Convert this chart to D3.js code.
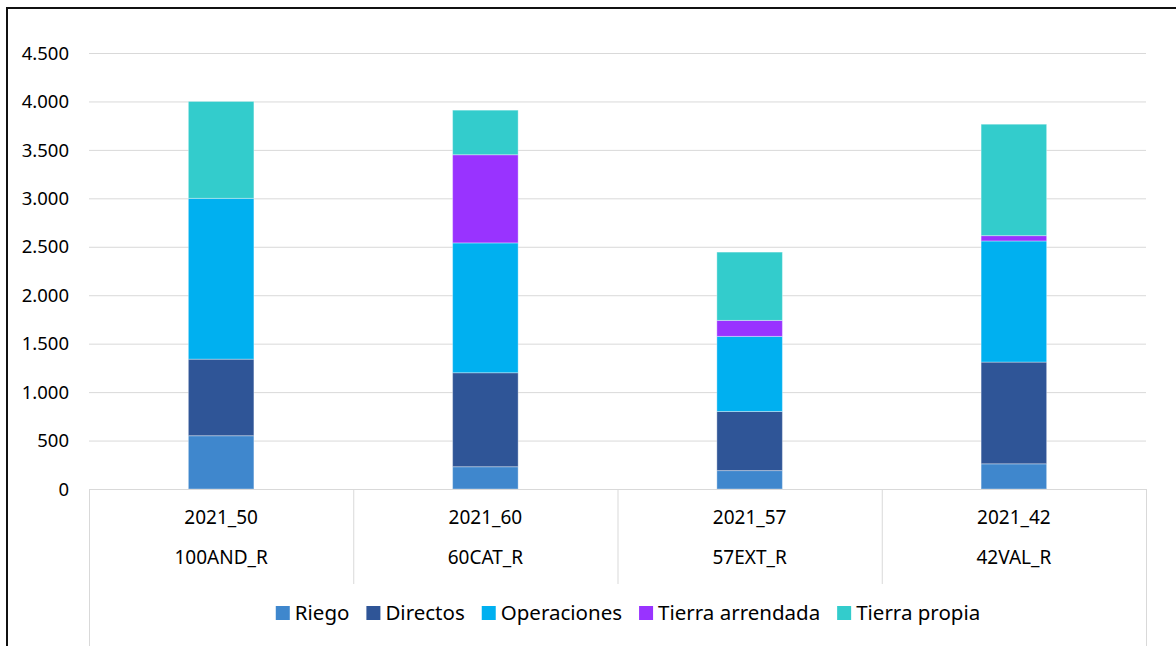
<!DOCTYPE html>
<meta charset="utf-8">
<style>
body { margin: 0; background: #fff; }
svg { display: block; font-family: "Noto Sans", "Open Sans", sans-serif; }
.grid line { stroke: #d9d9d9; stroke-width: 1; }
.tick-label { font-size: 18.5px; fill: #000; }
.cat-label { font-size: 19px; fill: #000; }
.legend text { font-size: 20.5px; fill: #000; }
</style>
<body>
<svg width="1176" height="646" id="vis"></svg>
</body>
<script src="https://d3js.org/d3.v7.min.js"></script>
<script>
var categories = ["2021_50", "2021_60", "2021_57", "2021_42"];
var regions = ["100AND_R", "60CAT_R", "57EXT_R", "42VAL_R"];
var seriesNames = ["Riego", "Directos", "Operaciones", "Tierra arrendada", "Tierra propia"];
var seriesColours = ["#3f87cd", "#2f5597", "#00b0f0", "#9933ff", "#33cccc"];

var riego = [550, 230, 190, 260];
var directos = [790, 970, 610, 1050];
var operaciones = [1660, 1340, 775, 1250];
var tierraArrendada = [0, 910, 165, 55];
var tierraPropia = [1000, 460, 705, 1150];
var yTicks = [0, 500, 1000, 1500, 2000, 2500, 3000, 3500, 4000, 4500];

var svg = d3.select("svg"),
    plot = {left: 89, right: 1146, top: 53, bottom: 489},
    tableBottom = 584;

var seriesValues = [riego, directos, operaciones, tierraArrendada, tierraPropia];
var data = categories.map(function(c, i) {
    var row = {cat: c};
    seriesNames.forEach(function(s, j) { row[s] = seriesValues[j][i]; });
    return row;
});

var x = d3.scaleBand()
    .domain(categories)
    .range([plot.left, plot.right])
    .paddingInner(0)
    .paddingOuter(0);

var y = d3.scaleLinear()
    .domain([0, 4500])
    .range([plot.bottom, plot.top]);

// outer frame
svg.append("path")
    .attr("d", "M7,646 L7,8 L1176,8")
    .attr("fill", "none")
    .attr("stroke", "#111")
    .attr("stroke-width", 2);

// grid lines
svg.append("g").attr("class", "grid")
    .selectAll("line").data(yTicks.slice(1)).enter().append("line")
    .attr("x1", plot.left).attr("x2", plot.right)
    .attr("y1", function(d) { return y(d) + 0.5; })
    .attr("y2", function(d) { return y(d) + 0.5; });

// y labels
svg.append("g")
    .selectAll("text").data(yTicks).enter().append("text")
    .attr("class", "tick-label")
    .attr("x", 69)
    .attr("y", function(d) { return y(d); })
    .attr("dy", "0.36em")
    .attr("text-anchor", "end")
    .text(function(d) { return d3.format(",")(d).replace(/,/g, "."); });

// bars
var stack = d3.stack().keys(seriesNames);
var layers = stack(data);
var barW = x.bandwidth() * 0.248;

svg.append("g")
    .selectAll("g").data(layers).enter().append("g")
    .attr("fill", function(d, i) { return seriesColours[i]; })
    .selectAll("rect").data(function(d) { return d; }).enter().append("rect")
    .attr("x", function(d) { return x(d.data.cat) + (x.bandwidth() - barW) / 2; })
    .attr("width", barW)
    .attr("y", function(d) { return y(d[1]); })
    .attr("height", function(d) { return y(d[0]) - y(d[1]); })
    .attr("stroke", "#fff")
    .attr("stroke-opacity", 0.35)
    .attr("stroke-width", 1);

// category table
var table = svg.append("g").attr("class", "grid");
table.append("line")
    .attr("x1", plot.left).attr("x2", plot.right)
    .attr("y1", plot.bottom + 0.5).attr("y2", plot.bottom + 0.5);
var bounds = categories.map(function(c) { return x(c); }).concat([plot.right]);
table.selectAll("line.sep").data(bounds).enter().append("line")
    .attr("class", "sep")
    .attr("x1", function(d) { return d + 0.5; })
    .attr("x2", function(d) { return d + 0.5; })
    .attr("y1", plot.bottom)
    .attr("y2", function(d, i) { return (i == 0 || i == bounds.length - 1) ? 646 : tableBottom; });

svg.append("g")
    .selectAll("text").data(categories).enter().append("text")
    .attr("class", "cat-label")
    .attr("x", function(d) { return x(d) + x.bandwidth() / 2; })
    .attr("y", 524)
    .attr("text-anchor", "middle")
    .text(function(d) { return d; });

svg.append("g")
    .selectAll("text").data(regions).enter().append("text")
    .attr("class", "cat-label")
    .attr("x", function(d, i) { return x(categories[i]) + x.bandwidth() / 2; })
    .attr("y", 564)
    .attr("text-anchor", "middle")
    .text(function(d) { return d; });

// legend
var legend = svg.append("g").attr("class", "legend");
var items = legend.selectAll("g").data(seriesNames).enter().append("g");
items.append("rect")
    .attr("width", 14).attr("height", 14)
    .attr("y", 606)
    .attr("fill", function(d, i) { return seriesColours[i]; });
items.append("text")
    .attr("x", 19)
    .attr("y", 620)
    .text(function(d) { return d; });

var pos = 0;
items.each(function() {
    var w = this.getBBox().width;
    d3.select(this).attr("transform", "translate(" + pos + ",0)");
    pos += w + 17;
});
var totalW = pos - 17;
legend.attr("transform", "translate(" + (628 - totalW / 2) + ",0)");
</script>
